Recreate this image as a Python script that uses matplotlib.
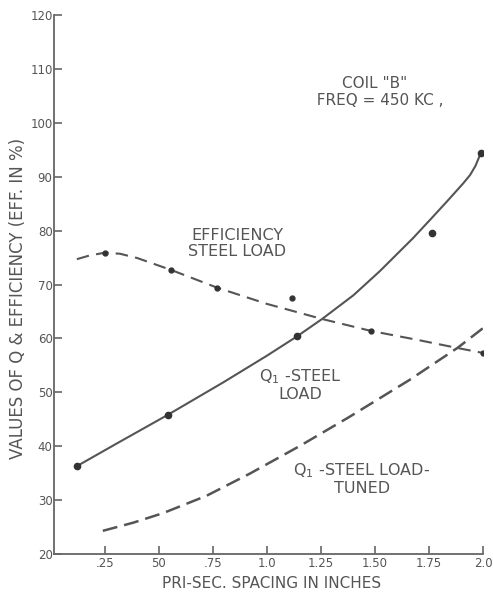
import matplotlib
matplotlib.use("Agg")
import matplotlib.pyplot as plt

# Q1 - steel load (solid curve)
q1_curve_x = [0.12, 0.30, 0.54, 0.80, 1.00, 1.14, 1.255, 1.40, 1.523, 1.676, 1.755, 1.833, 1.907, 1.94, 1.965, 1.99]
q1_curve_y = [36.3, 40.4, 45.8, 51.9, 56.8, 60.4, 63.6, 68.0, 72.5, 78.6, 82.0, 85.4, 88.7, 90.3, 92.0, 94.4]
q1_pts_x = [0.12, 0.54, 1.14, 1.764, 1.99]
q1_pts_y = [36.3, 45.8, 60.4, 79.6, 94.4]

# Efficiency - steel load (dashed curve)
eff_curve_x = [0.12, 0.18, 0.25, 0.32, 0.40, 0.556, 0.77, 1.0, 1.255, 1.48, 1.70, 1.884, 2.0]
eff_curve_y = [74.7, 75.4, 75.9, 75.7, 74.9, 72.7, 69.4, 66.4, 63.6, 61.4, 59.7, 58.2, 57.3]
eff_pts_x = [0.25, 0.556, 0.77, 1.116, 1.48, 2.0]
eff_pts_y = [75.9, 72.7, 69.4, 67.5, 61.4, 57.3]

# Q1 - steel load tuned (long dashed curve)
tuned_x = [0.24, 0.38, 0.52, 0.72, 0.92, 1.15, 1.38, 1.66, 1.884, 2.0]
tuned_y = [24.3, 25.8, 27.6, 30.8, 34.9, 40.0, 45.4, 52.3, 58.3, 61.9]

x_ticks = [0.25, 0.50, 0.75, 1.0, 1.25, 1.50, 1.75, 2.0]
x_tick_labels = [".25", "50", ".75", "1.0", "1.25", "1.50", "1.75", "2.0"]
y_ticks = [20, 30, 40, 50, 60, 70, 80, 90, 100, 110, 120]
y_tick_labels = ["20", "30", "40", "50", "60", "70", "80", "90", "100", "110", "120"]

ink = "#555555"
plt.rcParams['font.family'] = ['DejaVu Sans']

fig = plt.figure(figsize=(4.93, 5.95), dpi=100)
ax = fig.add_axes([54/493, 41/595, (483-54)/493, (554-15)/595])

ax.plot(q1_curve_x, q1_curve_y, color=ink, lw=1.5, solid_capstyle='round')
ax.plot(q1_pts_x, q1_pts_y, 'o', color="#333333", ms=4.5)

ax.plot(eff_curve_x, eff_curve_y, color=ink, lw=1.5, dashes=(6, 3.5))
ax.plot(eff_pts_x, eff_pts_y, 'o', color="#333333", ms=3.5)

ax.plot(tuned_x, tuned_y, color=ink, lw=1.8, dashes=(6, 2.8))

ax.set_xlim(0.014, 2.0)
ax.set_ylim(20, 120)
for s in ['top', 'right']:
    ax.spines[s].set_visible(False)
for s in ['left', 'bottom']:
    ax.spines[s].set_color("#666666")
    ax.spines[s].set_linewidth(1.3)

ax.set_xticks(x_ticks)
ax.set_xticklabels(x_tick_labels)
ax.set_yticks(y_ticks)
ax.set_yticklabels(y_tick_labels)
ax.tick_params(axis='both', direction='in', length=6, width=1.2, color="#666666",
               labelcolor=ink, labelsize=8.5, pad=2)
ax.tick_params(axis='y', pad=1)

ax.set_xlabel("PRI-SEC. SPACING IN INCHES", color=ink, fontsize=11)
ax.xaxis.set_label_coords(0.506, -0.041)
ax.set_ylabel("VALUES OF Q & EFFICIENCY (EFF. IN %)", color=ink, fontsize=12)
ax.yaxis.set_label_coords(-0.062, 0.475)

def px(xp):
    return (xp - 51) / 216

def py(yp):
    return 20 + (554 - yp) / 5.39

tk = dict(color=ink, ha='center', va='center', multialignment='center', linespacing=1.1)
ax.text(px(375), py(92), 'COIL "B"\n  FREQ = 450 KC ,', fontsize=11, **tk)
ax.text(px(237), py(243.5), 'EFFICIENCY\nSTEEL LOAD', fontsize=11.5, **tk)
ax.text(px(300), py(384.5), 'Q$_{\\rm 1}$ -STEEL\nLOAD', fontsize=11.5, **tk)
ax.text(px(362), py(479), 'Q$_{\\rm 1}$ -STEEL LOAD-\nTUNED', fontsize=11.5, **tk)

fig.savefig("out.png", dpi=100, facecolor="white")
